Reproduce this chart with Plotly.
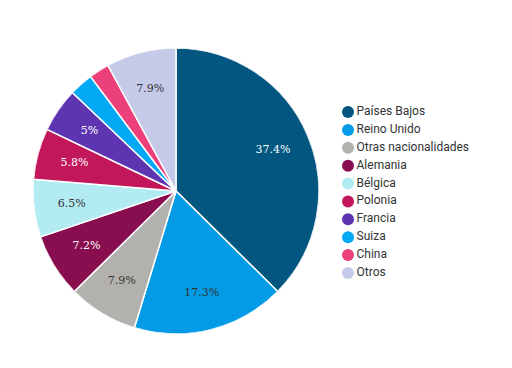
import plotly.graph_objects as go

labels = ["Países Bajos", "Reino Unido", "Otras nacionalidades", "Alemania", "Bélgica",
          "Polonia", "Francia", "Suiza", "China", "Otros"]
values = [37.4, 17.3, 7.9, 7.2, 6.5, 5.8, 5.0, 2.7, 2.3, 7.9]
slice_text = ["37.4%", "17.3%", "7.9%", "7.2%", "6.5%", "5.8%", "5%", "", "", "7.9%"]
colors = ["#02567f", "#039be5", "#b3b1ad", "#880e4f", "#b2ebf2",
          "#c2185b", "#5e35b1", "#03a9f4", "#ec407a", "#c5cae9"]
text_colors = ["#ffffff", "#333333", "#333333", "#ffffff", "#333333",
               "#ffffff", "#ffffff", "#333333", "#333333", "#333333"]

total = sum(values)
spans = [v / total * 360 for v in values]
mids = []
acc = 0.0
for s in spans:
    mids.append(acc + s / 2)
    acc += s

fig = go.Figure()
fig.add_trace(go.Barpolar(
    r=[1] * len(values), theta=mids, width=spans,
    marker=dict(color=colors, line=dict(color="#ffffff", width=1.5)),
    customdata=labels, hovertemplate="%{customdata}<extra></extra>",
    showlegend=False,
))
fig.add_trace(go.Scatterpolar(
    r=[0.735] * len(values), theta=mids, text=slice_text, mode="text",
    textfont=dict(family="DejaVu Serif", size=11, color=text_colors),
    hoverinfo="skip", showlegend=False,
))
# legend drawn as a marker+text column
fig.add_trace(go.Scatter(
    x=[0] * len(labels), y=list(range(len(labels))), text=labels,
    mode="markers+text", textposition="middle right",
    marker=dict(symbol="circle", size=12, color=colors),
    textfont=dict(family="Roboto", size=12, color="#333333"),
    cliponaxis=False, hoverinfo="skip", showlegend=False,
))

fig.update_layout(
    width=512, height=368,
    margin=dict(l=0, r=0, t=0, b=0),
    paper_bgcolor="#ffffff", plot_bgcolor="rgba(0,0,0,0)",
    showlegend=False,
    polar=dict(
        domain=dict(x=[0.0488, 0.6074], y=[0.1141, 0.8913]),
        bgcolor="rgba(0,0,0,0)", hole=0, bargap=0,
        radialaxis=dict(visible=False, range=[0, 1]),
        angularaxis=dict(visible=False, rotation=90, direction="clockwise"),
    ),
    xaxis=dict(domain=[0.6641, 0.99], range=[0, 10], visible=False, fixedrange=True),
    yaxis=dict(domain=[0.2556, 0.7417], range=[9.5, -0.5], visible=False, fixedrange=True),
)
fig.write_html("out.html")
